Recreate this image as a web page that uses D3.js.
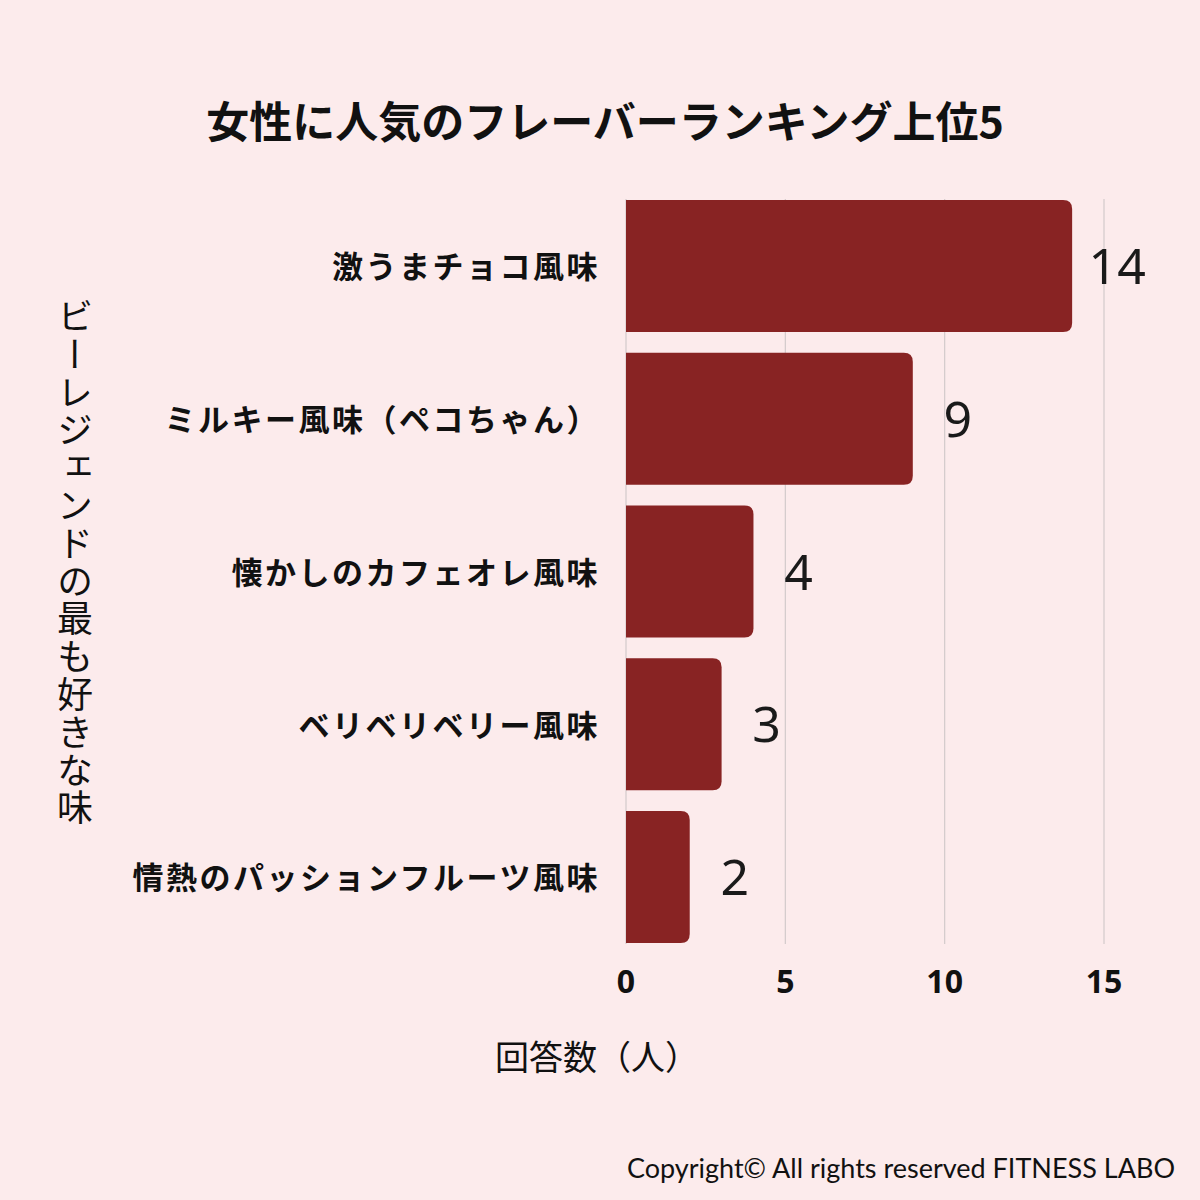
<!DOCTYPE html>
<html><head><meta charset="utf-8">
<script src="https://cdn.jsdelivr.net/npm/d3@7"></script>
<style>html,body{margin:0;padding:0;background:#FCEBEC;}</style>
</head><body>
<script>
const categories = ["激うまチョコ風味","ミルキー風味（ペコちゃん）","懐かしのカフェオレ風味","ベリベリベリー風味","情熱のパッションフルーツ風味"];
const values = [14, 9, 4, 3, 2];
const tickValues = [0, 5, 10, 15];
const title = "女性に人気のフレーバーランキング上位5";
const xTitle = "回答数（人）";
const yTitle = "ビーレジェンドの最も好きな味";
const credit = "Copyright© All rights reserved FITNESS LABO";

const W = 1200, H = 1200;
const svg = d3.select("body").append("svg").attr("width", W).attr("height", H);
svg.append("rect").attr("width", W).attr("height", H).attr("fill", "#FCEBEC");

const x = d3.scaleLinear().domain([0, 15]).range([626, 1104]);
const y = d3.scaleBand().domain(categories).range([200, 943]).paddingInner(0.136).paddingOuter(0);

const jp = "'Noto Sans CJK JP','Noto Sans',sans-serif";

// gridlines
svg.append("g").selectAll("line").data(tickValues).join("line")
  .attr("x1", d => x(d)).attr("x2", d => x(d))
  .attr("y1", 199).attr("y2", 944)
  .attr("stroke", "#D2CACB").attr("stroke-width", 1.2);

// bars with rounded right corners
const r = 9;
svg.append("g").selectAll("path").data(categories).join("path")
  .attr("d", (c, i) => {
    const x0 = x(0), x1 = x(values[i]), y0 = y(c), h = y.bandwidth();
    return `M${x0},${y0}H${x1 - r}Q${x1},${y0} ${x1},${y0 + r}V${y0 + h - r}Q${x1},${y0 + h} ${x1 - r},${y0 + h}H${x0}Z`;
  })
  .attr("fill", "#882323");

// value labels
svg.append("g").selectAll("text").data(categories).join("text")
  .attr("x", (c, i) => x(values[i]) + 45)
  .attr("y", c => y(c) + y.bandwidth() / 2)
  .attr("dy", "0.36em")
  .attr("text-anchor", "middle")
  .attr("font-family", "'Noto Sans',sans-serif")
  .attr("font-size", 50).attr("font-weight", 400)
  .attr("fill", "#1a1a1a")
  .text((c, i) => values[i]);

// category labels
svg.append("g").selectAll("text").data(categories).join("text")
  .attr("x", 600)
  .attr("y", c => y(c) + y.bandwidth() / 2)
  .attr("dy", "0.4em")
  .attr("text-anchor", "end")
  .attr("font-family", jp)
  .attr("font-size", 31).attr("font-weight", 700)
  .attr("letter-spacing", 2.5)
  .attr("fill", "#111")
  .text(c => c);

// x tick labels
svg.append("g").selectAll("text").data(tickValues).join("text")
  .attr("x", d => x(d)).attr("y", 993)
  .attr("text-anchor", "middle")
  .attr("font-family", "'Noto Sans',sans-serif")
  .attr("font-size", 32).attr("font-weight", 700)
  .attr("fill", "#111")
  .text(d => d);

// title
svg.append("text").attr("x", 605).attr("y", 138)
  .attr("text-anchor", "middle")
  .attr("font-family", jp).attr("font-size", 43).attr("font-weight", 700)
  .attr("fill", "#111").text(title);

// x title
svg.append("text").attr("x", 597).attr("y", 1070)
  .attr("text-anchor", "middle")
  .attr("font-family", jp).attr("font-size", 34).attr("font-weight", 400)
  .attr("fill", "#111").text(xTitle);

// y title (vertical writing)
svg.append("text").attr("x", 75).attr("y", 563)
  .attr("text-anchor", "middle")
  .style("writing-mode", "vertical-rl")
  .attr("font-family", jp).attr("font-size", 36).attr("font-weight", 400)
  .attr("letter-spacing", 1.8)
  .attr("fill", "#111").text(yTitle);

// credit
svg.append("text").attr("x", 1175).attr("y", 1178)
  .attr("text-anchor", "end")
  .attr("font-family", "Lato,'Open Sans',sans-serif").attr("font-size", 27)
  .attr("fill", "#111").text(credit);
</script>
</body></html>
